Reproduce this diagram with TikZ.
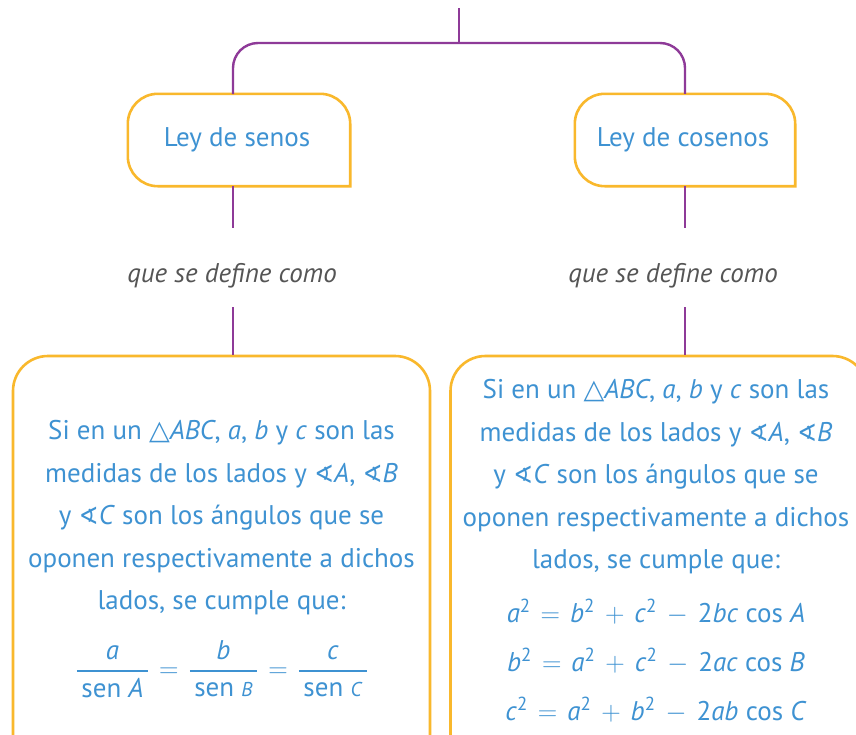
\documentclass[tikz,border=0pt]{standalone}
\usepackage{fix-cm}
\usepackage{amsmath,amssymb}
\usepackage{fontspec}
\setmainfont{PT Sans}
\newfontfamily\symfont{DejaVu Sans}
\definecolor{txtblue}{RGB}{62,146,210}
\definecolor{boxorange}{RGB}{249,184,44}
\definecolor{linepurple}{RGB}{142,58,152}
\definecolor{greytxt}{RGB}{85,85,85}
\newcommand{\vi}[1]{\textit{#1}}
\newcommand{\ang}{{\symfont\fontsize{24}{26}\selectfont ∢}}
\newcommand{\tri}{{\symfont △}}
\newcommand{\myfrac}[2]{$\genfrac{}{}{2pt}{0}{\text{#1}}{\text{#2}}$}
\newcommand{\opsp}[1]{\hspace{10pt}$#1$\hspace{10pt}}
\begin{document}
\begin{tikzpicture}[x=1pt,y=-1pt,
  conn/.style={draw=linepurple,line width=2.4pt},
  boxline/.style={draw=boxorange,line width=2.6pt,line cap=rect},
  titletxt/.style={text=txtblue,font=\fontsize{27}{30}\selectfont,inner sep=0pt},
  linktxt/.style={text=greytxt,font=\fontsize{27}{30}\selectfont\itshape,inner sep=0pt},
  bodytxt/.style={text=txtblue,font=\fontsize{27}{42.5}\selectfont,align=center,inner sep=0pt},
  eqtxt/.style={text=txtblue,font=\fontsize{27}{49}\selectfont,align=center,inner sep=0pt},
  bigbox/.style={draw=boxorange,line width=2.6pt,rounded corners=35pt,minimum width=417pt,minimum height=434pt,inner sep=0pt}
]
\useasboundingbox (0,0) rectangle (856,734);
\clip (0,0) rectangle (856,734);
\fill[white] (0,0) rectangle (856,734);

% title boxes
\node[minimum width=222pt,minimum height=92pt,inner sep=0pt] (ls) at (239,140) {};
\node[titletxt] (lst) at (237,140) {Ley de senos};
\draw[boxline,rounded corners=30pt] (ls.south east) -- (ls.north east) -- (ls.north west) -- (ls.south west) -- (ls.south east);

\node[minimum width=220pt,minimum height=92pt,inner sep=0pt] (lc) at (685,140) {};
\node[titletxt] (lct) at (683,140) {Ley de cosenos};
\draw[boxline,rounded corners=30pt] (lc.south east) -- (lc.north east) -- (lc.north west) -- (lc.south west) -- (lc.south east);

% top connectors
\coordinate (top) at (459,8);
\coordinate (join) at (459,43);
\coordinate (lsin) at (233,94);
\draw[conn] (top) -- (join);
\draw[conn,rounded corners=25pt] (lsin) |- (join) -| (lc.north);

% link texts
\node[linktxt] (q1) at (232,276) {que se define como};
\node[linktxt] (q2) at (673,276) {que se define como};
\coordinate (q1top) at (233,228);
\coordinate (q1bot) at (233,307);
\coordinate (q2top) at (685,228);
\coordinate (q2bot) at (685,307);
\coordinate (lsout) at (233,186);
\draw[conn] (lsout) -- (q1top);
\draw[conn] (lc.south) -- (q2top);

% big boxes
\node[bigbox] (bl) at (221.5,573) {};
\node[bigbox] (br) at (659,573) {};
\draw[conn] (q1bot) -- (q1bot |- bl.north);
\draw[conn] (q2bot) -- (q2bot |- br.north);

% left body
\node[bodytxt] (lb) at (221.5,518) {Si en un \tri\vi{ABC}, \vi{a}, \vi{b} y \vi{c} son las\\
medidas de los lados y \ang\vi{A}, \ang\vi{B}\\
y \ang\vi{C} son los ángulos que se\\
oponen respectivamente a dichos\\
lados, se cumple que:};
\node[text=txtblue,font=\fontsize{27}{30}\selectfont,inner sep=0pt] (lf) at (222,669)
  {\myfrac{\vi{a}}{\,sen \vi{A}\,}\hspace{10pt}$=$\hspace{10pt}\myfrac{\vi{b}}{\,sen {\fontsize{20}{22}\selectfont\vi{B}}\,}\hspace{10pt}$=$\hspace{10pt}\myfrac{\vi{c}}{\,sen {\fontsize{20}{22}\selectfont\vi{C}}\,}};

% right body
\node[bodytxt] (rb) at (656,477) {Si en un \tri\vi{ABC}, \vi{a}, \vi{b} y \vi{c} son las\\
medidas de los lados y \ang\vi{A}, \ang\vi{B}\\
y \ang\vi{C} son los ángulos que se\\
oponen respectivamente a dichos\\
lados, se cumple que:};
\node[eqtxt] (rf) at (656,661) {\vi{a}\textsuperscript{2}\opsp{=}\vi{b}\textsuperscript{2}\opsp{+}\vi{c}\textsuperscript{2}\opsp{-}2\vi{bc} cos \vi{A}\\
\vi{b}\textsuperscript{2}\opsp{=}\vi{a}\textsuperscript{2}\opsp{+}\vi{c}\textsuperscript{2}\opsp{-}2\vi{ac} cos \vi{B}\\
\vi{c}\textsuperscript{2}\opsp{=}\vi{a}\textsuperscript{2}\opsp{+}\vi{b}\textsuperscript{2}\opsp{-}2\vi{ab} cos \vi{C}};
\end{tikzpicture}
\end{document}
